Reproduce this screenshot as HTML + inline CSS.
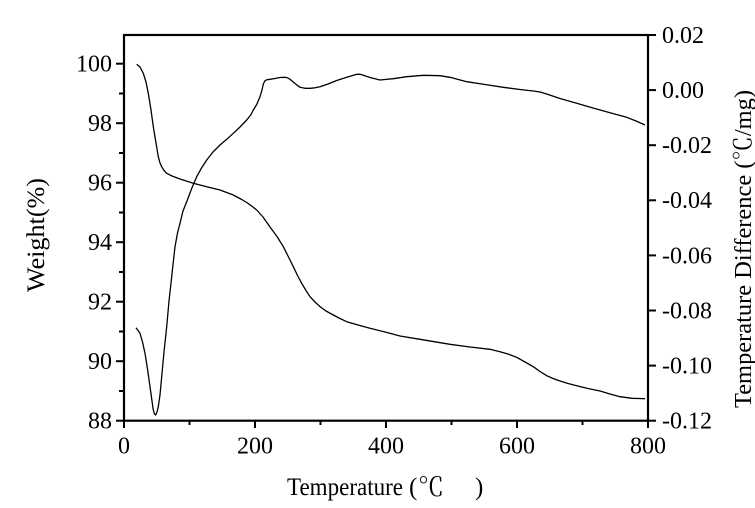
<!DOCTYPE html>
<html><head><meta charset="utf-8"><style>
html,body{margin:0;padding:0;background:#fff;}
svg{display:block;}
text{font-family:"Liberation Serif","Noto Serif CJK SC",serif;fill:#000;}
</style></head><body>
<svg width="755" height="508" viewBox="0 0 755 508" xmlns="http://www.w3.org/2000/svg">
<rect width="755" height="508" fill="#fff"/>
<!-- curves -->
<polyline fill="none" stroke="#000" stroke-width="1.3" stroke-linejoin="round" points="136.7,64.3 140,67 143.3,73.3 146,82 148.3,93.3 151,110 153.3,126.7 156,143 158.3,156.7 160,163 161.7,166.7 164,170.5 166.7,173.3 172,176 180,179 193.3,183.3 206.7,186.7 220,190 233.3,195 241.7,199.5 246.7,202.5 251,205.5 256.7,210 263,217 270,227 277,236.5 283.3,246.7 288,256 293.3,266.7 297.5,275.5 301.7,283.3 306,290.5 310,296.7 315,302 320,306.7 326,311 333.3,315 340,318.5 346.7,321.7 358,325 370,328.3 385,332 400,336 420,339.3 450,344.3 470,347 490,349.3 500,351.7 508,354 516.7,357.3 525,362 533.3,366.7 540,371.5 546.7,375.7 553,378.5 560,381 568,383.5 576.7,385.7 588,388.5 600,391 610,394 620,396.7 632,398.3 645,398.7"/>
<polyline fill="none" stroke="#000" stroke-width="1.3" stroke-linejoin="round" points="136,327.7 140,333.3 142.5,342 145,353.3 147.5,369 150,386.7 152,401 153.3,410 154.5,414 155.7,415 157,412 158.3,406.7 160,395 161.7,376.7 164,352 166.7,326.7 169,301 171.7,276.7 173.5,260 175,246.7 177.5,233 180,223.3 183,211 186.7,201.7 191.5,189 196.7,176.7 201.5,168 206.7,160 213,152 220,145 226.7,139.3 233.3,133.3 240,127 246.7,120 251,114.5 253.3,110 256.7,104.5 260,96.7 262,90 263.3,84 265,80.7 267,79.7 270,79.3 275,78.5 280,77.5 285,77.3 288,78 290,79.3 295,83.5 300,87.3 305,88.3 310,88.3 315,87.8 320,86.7 328,84 336.7,80.5 346,77.5 356.7,74.3 360,74.3 363.3,75.3 370,77.5 380,80 393.3,78.7 406.7,76.7 423.3,75.3 440,75.7 450,77.3 466.7,81.7 485,84.5 503.3,87.3 520,89.5 533.3,91 540,92 546.7,94 560,98.5 576.7,103.3 593,108 610,112.7 626.7,117.3 636,121 645,125"/>
<!-- frame -->
<rect x="124" y="35" width="524" height="385.7" fill="none" stroke="#000" stroke-width="2.2"/>
<!-- left ticks -->
<g stroke="#000" stroke-width="2">
<line x1="116" y1="63.7" x2="124" y2="63.7"/>
<line x1="116" y1="123.2" x2="124" y2="123.2"/>
<line x1="116" y1="182.7" x2="124" y2="182.7"/>
<line x1="116" y1="242.2" x2="124" y2="242.2"/>
<line x1="116" y1="301.7" x2="124" y2="301.7"/>
<line x1="116" y1="361.2" x2="124" y2="361.2"/>
<line x1="116" y1="420.7" x2="124" y2="420.7"/>
<line x1="119" y1="93.5" x2="124" y2="93.5"/>
<line x1="119" y1="153" x2="124" y2="153"/>
<line x1="119" y1="212.5" x2="124" y2="212.5"/>
<line x1="119" y1="272" x2="124" y2="272"/>
<line x1="119" y1="331.5" x2="124" y2="331.5"/>
<line x1="119" y1="391" x2="124" y2="391"/>
<!-- right ticks -->
<line x1="648" y1="35" x2="656" y2="35"/>
<line x1="648" y1="90.1" x2="656" y2="90.1"/>
<line x1="648" y1="145.2" x2="656" y2="145.2"/>
<line x1="648" y1="200.3" x2="656" y2="200.3"/>
<line x1="648" y1="255.4" x2="656" y2="255.4"/>
<line x1="648" y1="310.5" x2="656" y2="310.5"/>
<line x1="648" y1="365.6" x2="656" y2="365.6"/>
<line x1="648" y1="420.7" x2="656" y2="420.7"/>
<!-- bottom ticks -->
<line x1="124" y1="420.7" x2="124" y2="428"/>
<line x1="255" y1="420.7" x2="255" y2="428"/>
<line x1="386" y1="420.7" x2="386" y2="428"/>
<line x1="517" y1="420.7" x2="517" y2="428"/>
<line x1="648" y1="420.7" x2="648" y2="428"/>
<line x1="189.5" y1="420.7" x2="189.5" y2="425"/>
<line x1="320.5" y1="420.7" x2="320.5" y2="425"/>
<line x1="451.5" y1="420.7" x2="451.5" y2="425"/>
<line x1="582.5" y1="420.7" x2="582.5" y2="425"/>
</g>
<!-- left labels -->
<g font-size="24" text-anchor="end">
<text x="112" y="71.6">100</text>
<text x="112" y="131.1">98</text>
<text x="112" y="190.6">96</text>
<text x="112" y="250.1">94</text>
<text x="112" y="309.6">92</text>
<text x="112" y="369.1">90</text>
<text x="112" y="428.6">88</text>
</g>
<!-- right labels -->
<g font-size="24" text-anchor="start">
<text x="662" y="42.9">0.02</text>
<text x="662" y="98">0.00</text>
<text x="662" y="153.1">-0.02</text>
<text x="662" y="208.2">-0.04</text>
<text x="662" y="263.3">-0.06</text>
<text x="662" y="318.4">-0.08</text>
<text x="662" y="373.5">-0.10</text>
<text x="662" y="428.6">-0.12</text>
</g>
<!-- bottom labels -->
<g font-size="24" text-anchor="middle">
<text x="124" y="453.5">0</text>
<text x="255" y="453.5">200</text>
<text x="386" y="453.5">400</text>
<text x="517" y="453.5">600</text>
<text x="648" y="453.5">800</text>
</g>
<!-- axis titles -->
<text x="287" y="495" font-size="25" textLength="116" lengthAdjust="spacingAndGlyphs">Temperature</text>
<text x="409" y="495" font-size="25">(</text>
<text x="418" y="496" font-size="26">℃</text>
<text x="475" y="495" font-size="25">)</text>
<text transform="translate(44,235) rotate(-90)" font-size="25" text-anchor="middle" textLength="114" lengthAdjust="spacingAndGlyphs">Weight(%)</text>
<text transform="translate(751,249) rotate(-90)" font-size="24" text-anchor="middle" textLength="318" lengthAdjust="spacingAndGlyphs">Temperature Difference (℃/mg)</text>
</svg>
</body></html>
